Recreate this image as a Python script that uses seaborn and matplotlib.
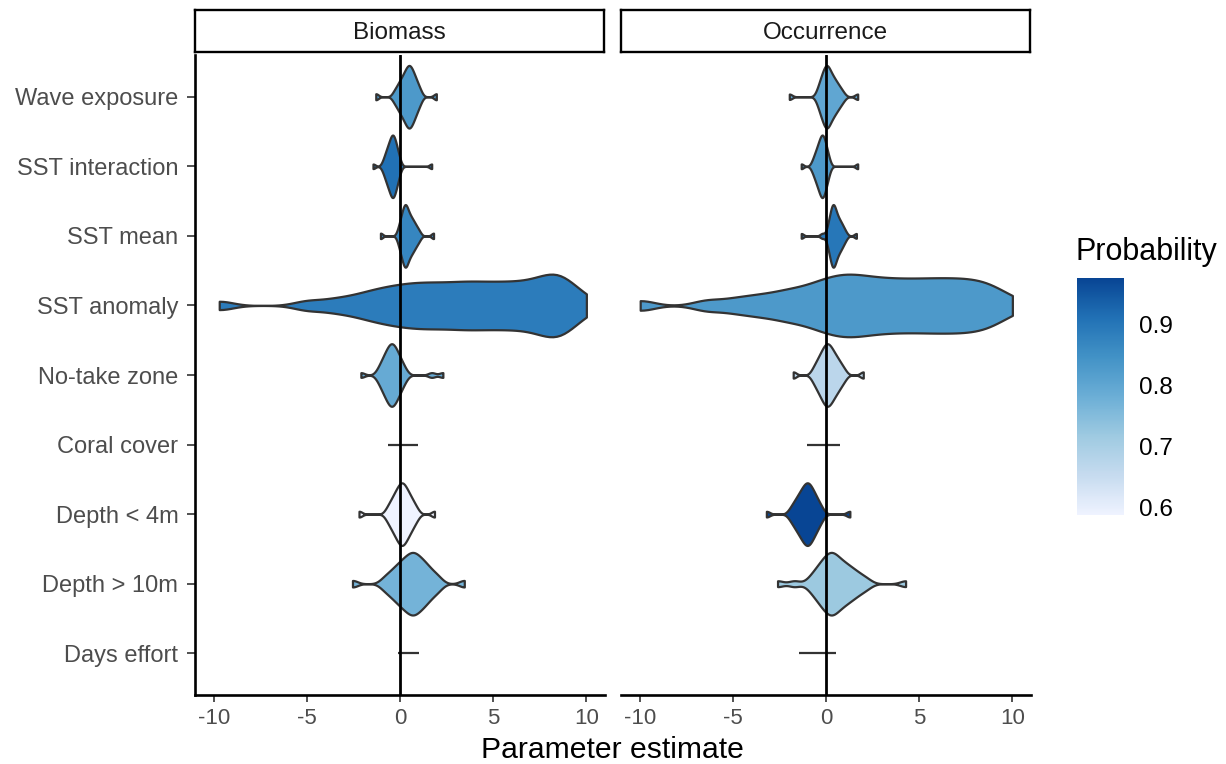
import numpy as np
import pandas as pd
import matplotlib
matplotlib.use("Agg")
import matplotlib.pyplot as plt
from matplotlib.colors import LinearSegmentedColormap, Normalize
import matplotlib.cm as cm
import seaborn as sns

# ---------------- data ----------------
parameters = ["Wave exposure", "SST interaction", "SST mean", "SST anomaly",
              "No-take zone", "Coral cover", "Depth < 4m", "Depth > 10m", "Days effort"]
models = ["Biomass", "Occurrence"]

# posterior draws summarised as quantile points
bio_wave = [-1.3, -0.33, -0.20, -0.11, -0.04, 0.02, 0.08, 0.13, 0.17, 0.22, 0.26, 0.30, 0.33,
            0.37, 0.40, 0.43, 0.46, 0.49, 0.52, 0.55, 0.58, 0.61, 0.65, 0.68, 0.72, 0.77,
            0.81, 0.86, 0.92, 1.00, 1.10, 1.95]
bio_sst_int = [-1.45, -0.91, -0.83, -0.78, -0.73, -0.69, -0.66, -0.63, -0.60, -0.57, -0.54,
               -0.52, -0.49, -0.47, -0.45, -0.43, -0.41, -0.39, -0.38, -0.36, -0.34, -0.32,
               -0.30, -0.27, -0.25, -0.22, -0.19, -0.16, -0.12, -0.08, -0.01, 1.7]
bio_sst_mean = [-1.05, -0.10, -0.03, 0.02, 0.07, 0.10, 0.13, 0.16, 0.19, 0.21, 0.24, 0.26,
                0.28, 0.30, 0.32, 0.34, 0.36, 0.39, 0.42, 0.46, 0.49, 0.52, 0.56, 0.60, 0.64,
                0.69, 0.73, 0.79, 0.85, 0.93, 1.04, 1.8]
bio_sst_anom = [-9.7, -5.0, -3.7, -2.77, -2.06, -1.53, -1.08, -0.67, -0.28, 0.08, 0.43,
                0.76, 1.09, 1.42, 1.75, 2.07, 2.41, 2.74, 3.07, 3.39, 3.69, 4.0, 4.33, 4.65,
                4.96, 5.29, 5.61, 5.93, 6.24, 6.56, 6.88, 7.19, 7.46, 7.73, 7.98, 8.2, 8.4,
                8.6, 8.8, 9.05, 9.4, 10.0]
bio_notake = [-2.1, -1.19, -1.07, -0.98, -0.92, -0.86, -0.81, -0.76, -0.71, -0.67, -0.63,
              -0.60, -0.56, -0.53, -0.50, -0.47, -0.43, -0.40, -0.37, -0.34, -0.30, -0.27,
              -0.23, -0.19, -0.14, -0.10, -0.04, 0.02, 0.08, 0.17, 0.29, 1.7, 2.3]
bio_depth_shallow = [-2.2, -0.72, -0.58, -0.49, -0.42, -0.35, -0.29, -0.24, -0.19, -0.15,
                     -0.10, -0.06, -0.02, 0.01, 0.05, 0.08, 0.12, 0.15, 0.19, 0.22, 0.26,
                     0.30, 0.35, 0.39, 0.44, 0.49, 0.55, 0.62, 0.69, 0.78, 0.92, 1.85]
bio_depth_deep = [-2.55, -0.90, -0.65, -0.48, -0.33, -0.21, -0.10, 0.0, 0.09, 0.18, 0.26,
                  0.34, 0.41, 0.49, 0.55, 0.62, 0.68, 0.74, 0.81, 0.87, 0.94, 1.02, 1.10,
                  1.18, 1.27, 1.36, 1.46, 1.58, 1.72, 1.90, 2.12, 3.45]
bio_coral_range = [-0.63, 0.97]
bio_days_range = [-0.13, 1.04]

occ_wave = [-1.97, -0.47, -0.38, -0.31, -0.26, -0.22, -0.18, -0.14, -0.11, -0.07, -0.04,
            -0.01, 0.01, 0.04, 0.06, 0.09, 0.12, 0.15, 0.19, 0.22, 0.26, 0.30, 0.35, 0.39,
            0.44, 0.49, 0.55, 0.62, 0.69, 0.78, 0.92, 1.7]
occ_sst_int = [-1.33, -0.74, -0.65, -0.60, -0.55, -0.51, -0.47, -0.44, -0.41, -0.38, -0.36,
               -0.33, -0.31, -0.28, -0.26, -0.24, -0.22, -0.20, -0.19, -0.17, -0.15, -0.13,
               -0.11, -0.08, -0.06, -0.03, 0.0, 0.03, 0.07, 0.11, 0.18, 1.7]
occ_sst_mean = [-1.33, -0.2, 0.07, 0.13, 0.17, 0.21, 0.24, 0.26, 0.29, 0.31, 0.33, 0.35,
                0.37, 0.38, 0.40, 0.42, 0.43, 0.45, 0.48, 0.51, 0.53, 0.56, 0.59, 0.62, 0.66,
                0.70, 0.74, 0.78, 0.83, 0.88, 0.95, 1.05, 1.63]
occ_sst_anom = [-9.97, -6.4, -5.0, -4.0, -3.24, -2.49, -1.98, -1.46, -0.95, -0.56, -0.20,
                0.14, 0.43, 0.71, 1.0, 1.28, 1.56, 1.84, 2.14, 2.46, 2.78, 3.10, 3.43, 3.77,
                4.10, 4.44, 4.77, 5.11, 5.45, 5.77, 6.10, 6.43, 6.76, 7.09, 7.42, 7.75, 8.08,
                8.46, 8.83, 9.20, 10.0]
occ_notake = [-1.76, -0.72, -0.58, -0.49, -0.42, -0.35, -0.29, -0.24, -0.19, -0.15, -0.10,
              -0.06, -0.02, 0.01, 0.05, 0.08, 0.12, 0.16, 0.20, 0.24, 0.28, 0.32, 0.37, 0.42,
              0.48, 0.53, 0.60, 0.67, 0.75, 0.85, 1.0, 2.0]
occ_depth_shallow = [-3.2, -1.93, -1.78, -1.68, -1.60, -1.53, -1.46, -1.41, -1.35, -1.30,
                     -1.25, -1.21, -1.17, -1.13, -1.09, -1.05, -1.01, -0.98, -0.94, -0.91,
                     -0.87, -0.83, -0.78, -0.74, -0.69, -0.64, -0.58, -0.51, -0.44, -0.35,
                     -0.21, 1.28]
occ_depth_deep = [-2.6, -1.7, -0.88, -0.66, -0.52, -0.40, -0.29, -0.20, -0.12, -0.04, 0.04,
                  0.10, 0.17, 0.23, 0.29, 0.35, 0.40, 0.47, 0.54, 0.62, 0.71, 0.79, 0.88,
                  0.97, 1.08, 1.18, 1.30, 1.42, 1.57, 1.73, 1.94, 2.23, 4.27]
occ_coral_range = [-1.0, 0.75]
occ_days_range = [-1.44, 0.52]

# probability of effect (fill colour); NaN = no violin
bio_prob = [0.83, 0.91, 0.87, 0.89, 0.79, np.nan, 0.587, 0.77, np.nan]
occ_prob = [0.80, 0.83, 0.90, 0.83, 0.67, np.nan, 0.977, 0.72, np.nan]

x_ticks = [-10, -5, 0, 5, 10]
cbar_ticks = [0.6, 0.7, 0.8, 0.9]
blues7 = ["#eff3ff", "#c6dbef", "#9ecae1", "#6baed6", "#4292c6", "#2171b5", "#084594"]

# kde smoothing per violin (rendering setting)
kde_adjust = {"SST anomaly": 0.35}
kde_adjust_default = 0.5

# ---------------- assemble ----------------
bio_samples = {"Wave exposure": bio_wave, "SST interaction": bio_sst_int,
               "SST mean": bio_sst_mean, "SST anomaly": bio_sst_anom,
               "No-take zone": bio_notake, "Depth < 4m": bio_depth_shallow,
               "Depth > 10m": bio_depth_deep}
occ_samples = {"Wave exposure": occ_wave, "SST interaction": occ_sst_int,
               "SST mean": occ_sst_mean, "SST anomaly": occ_sst_anom,
               "No-take zone": occ_notake, "Depth < 4m": occ_depth_shallow,
               "Depth > 10m": occ_depth_deep}
bio_lines = {"Coral cover": bio_coral_range, "Days effort": bio_days_range}
occ_lines = {"Coral cover": occ_coral_range, "Days effort": occ_days_range}

rows = []
for model, samp in zip(models, [bio_samples, occ_samples]):
    for p, vals in samp.items():
        for v in vals:
            rows.append({"model": model, "parameter": p, "value": v})
df = pd.DataFrame(rows)

all_probs = [v for v in bio_prob + occ_prob if not np.isnan(v)]
norm = Normalize(vmin=min(all_probs), vmax=max(all_probs))
cmap = LinearSegmentedColormap.from_list("blues7", blues7)

# ---------------- figure ----------------
sns.set_style("white")
plt.rcParams["font.family"] = ["Liberation Sans", "DejaVu Sans"]
plt.rcParams["axes.unicode_minus"] = False

W, H = 1226, 764
fig = plt.figure(figsize=(W / 100, H / 100), dpi=100)
fig.patch.set_facecolor("white")

panels = [(195, 605), (621, 1031)]
top_px, bot_px = 55, 695
for i, (model, probs, lines) in enumerate(zip(models, [bio_prob, occ_prob], [bio_lines, occ_lines])):
    x0, x1 = panels[i]
    ax = fig.add_axes([x0 / W, 1 - bot_px / H, (x1 - x0) / W, (bot_px - top_px) / H])
    sub = df[df["model"] == model]
    for p, pr in zip(parameters, probs):
        if np.isnan(pr):
            continue
        sns.violinplot(data=sub[sub["parameter"] == p], x="value", y="parameter",
                       order=parameters, color=cmap(norm(pr)), orient="h",
                       density_norm="width", cut=0, inner=None, width=0.9,
                       linewidth=1.6, linecolor="#333333",
                       bw_adjust=kde_adjust.get(p, kde_adjust_default),
                       saturation=1, ax=ax)
    for p, rng in lines.items():
        ax.hlines(parameters.index(p), rng[0], rng[1], color="#333333", lw=1.6, zorder=2)
    ax.axvline(0, color="black", lw=2.0, zorder=5)
    ax.set_xlim(-11, 11)
    ax.set_ylim(8.6, -0.6)
    ax.set_xticks(x_ticks)
    ax.set_xticklabels([str(t) for t in x_ticks])
    ax.set_xlabel("")
    ax.set_ylabel("")
    ax.tick_params(axis="x", length=5, width=1.2, color="#333333", labelcolor="#4d4d4d",
                   labelsize=16, pad=4, bottom=True)
    for s in ["top", "right"]:
        ax.spines[s].set_visible(False)
    ax.spines["bottom"].set_linewidth(1.9)
    ax.spines["bottom"].set_color("black")
    if i == 0:
        ax.spines["left"].set_linewidth(1.9)
        ax.spines["left"].set_color("black")
        ax.tick_params(axis="y", length=6, width=1.2, color="#333333", labelcolor="#4d4d4d",
                       labelsize=17, pad=6, left=True)
    else:
        ax.spines["left"].set_visible(False)
        ax.tick_params(axis="y", left=False, labelleft=False)
    ax.set_facecolor("white")

    # facet strip
    sax = fig.add_axes([x0 / W, 1 - 52 / H, (x1 - x0 - 1) / W, 42 / H])
    sax.set_xticks([])
    sax.set_yticks([])
    for s in sax.spines.values():
        s.set_linewidth(1.7)
        s.set_color("black")
    sax.text(0.5, 0.46, model, ha="center", va="center", fontsize=17.5, color="#1a1a1a",
             transform=sax.transAxes)

# shared x label
fig.text(612.5 / W, 1 - 758 / H, "Parameter estimate", ha="center", va="baseline",
         fontsize=21.7, color="black")

# colour bar
cax = fig.add_axes([1077 / W, 1 - 515 / H, 47 / W, 237 / H])
sm = cm.ScalarMappable(norm=norm, cmap=cmap)
cb = fig.colorbar(sm, cax=cax, ticks=cbar_ticks)
cb.outline.set_visible(False)
cb.set_ticklabels([f"{t:.1f}" for t in cbar_ticks])
cax.tick_params(axis="y", direction="in", length=9, width=1, color="white",
                left=True, right=True, labelleft=False, labelright=True,
                labelsize=17.5, labelcolor="black", pad=11)
fig.text(1076 / W, 1 - 260 / H, "Probability", ha="left", va="baseline",
         fontsize=22, color="black")

fig.savefig("out.png", dpi=100, facecolor="white")
